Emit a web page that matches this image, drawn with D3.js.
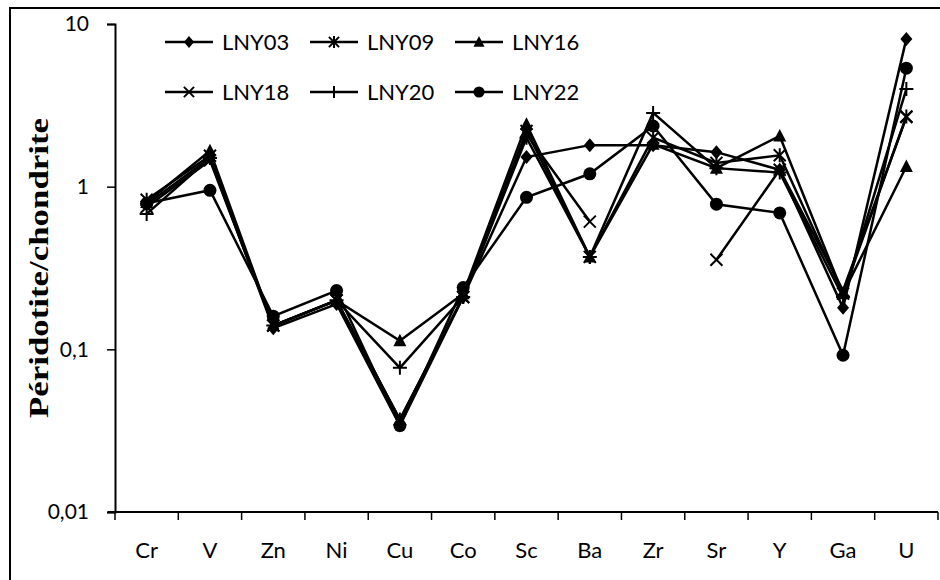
<!DOCTYPE html>
<html><head><meta charset="utf-8">
<script src="https://cdn.jsdelivr.net/npm/d3@7"></script>
<style>body{margin:0;background:#fff}svg{display:block}</style>
</head><body><svg id="c" width="940" height="580"></svg>
<script>
const categories = ["Cr","V","Zn","Ni","Cu","Co","Sc","Ba","Zr","Sr","Y","Ga","U"];
const LNY03 = [0.78, 1.50, 0.135, 0.19, 0.034, 0.21, 1.52, 1.80, 1.80, 1.63, 1.27, 0.18, 8.1];
const LNY09 = [0.83, 1.55, 0.14, 0.20, 0.037, 0.21, 2.2, 0.37, 2.0, 1.40, 1.56, 0.22, 2.7];
const LNY16 = [0.80, 1.66, 0.14, 0.20, 0.113, 0.22, 2.42, 0.37, 1.82, 1.30, 2.05, 0.22, 1.33];
const LNY18 = [0.75, 1.45, 0.14, 0.20, 0.037, 0.21, 2.1, 0.61, null, 0.355, 1.27, 0.23, 2.68];
const LNY20 = [0.68, 1.50, 0.14, 0.20, 0.077, 0.21, 2.0, 0.37, 2.84, 1.30, 1.22, 0.21, 3.98];
const LNY22 = [0.79, 0.95, 0.16, 0.23, 0.034, 0.24, 0.86, 1.20, 2.36, 0.78, 0.69, 0.092, 5.35];
const seriesNames = ["LNY03","LNY09","LNY16","LNY18","LNY20","LNY22"];
const seriesValues = [LNY03, LNY09, LNY16, LNY18, LNY20, LNY22];
const seriesMarkers = ["diamond","asterisk","triangle","cross","plus","circle"];
const yTickValues = [0.01, 0.1, 1, 10];
const yTickLabels = ["0,01","0,1","1","10"];
const yTitle = "Péridotite/chondrite";

const svg = d3.select("#c");
svg.append("rect").attr("x",10).attr("y",8).attr("width",940).attr("height",580)
  .attr("fill","none").attr("stroke","#000").attr("stroke-width",2);

const x = d3.scaleBand().domain(categories).range([115, 938]);
const y = d3.scaleLog().domain([0.01, 10]).range([512, 24]);

const yAxis = svg.append("g").attr("transform","translate(115,0)")
  .call(d3.axisLeft(y).tickValues(yTickValues).tickFormat((d,i)=>yTickLabels[i]).tickSize(8).tickPadding(18));
const xAxis = svg.append("g").attr("transform","translate(0,512)")
  .call(d3.axisBottom(x).tickSize(0).tickPadding(30));
xAxis.selectAll(".tick line").remove();
const bounds = categories.map(c => x(c)).concat([x.range()[1]]);
xAxis.selectAll(".btick").data(bounds).enter().append("line")
  .attr("x1", d=>d).attr("x2", d=>d).attr("y1",0).attr("y2",8).attr("stroke","#000").attr("stroke-width",1.5);
[yAxis, xAxis].forEach(g => {
  g.select(".domain").attr("stroke","#000").attr("stroke-width",2);
  g.selectAll(".tick line").attr("stroke","#000").attr("stroke-width",1.5);
  g.selectAll("text").attr("font-family","Lato, sans-serif").attr("font-size",21).attr("fill","#000");
});
xAxis.select(".domain").attr("d", "M108,0H938");
xAxis.selectAll(".tick text").attr("font-size",22);

svg.append("text").attr("transform","translate(48,268) rotate(-90)")
  .attr("text-anchor","middle").attr("font-family","'Liberation Serif', 'Times New Roman', serif")
  .attr("font-weight","bold").attr("font-size",27).attr("textLength",300).attr("lengthAdjust","spacingAndGlyphs")
  .text(yTitle);

function marker(g, type, cx, cy, s) {
  s = s || 1;
  if (type === "diamond") {
    g.append("path").attr("d", `M${cx},${cy-7*s}L${cx+6*s},${cy}L${cx},${cy+7*s}L${cx-6*s},${cy}Z`).attr("fill","#000");
  } else if (type === "triangle") {
    g.append("path").attr("d", `M${cx},${cy-7*s}L${cx+6.5*s},${cy+5.5*s}L${cx-6.5*s},${cy+5.5*s}Z`).attr("fill","#000");
  } else if (type === "circle") {
    g.append("circle").attr("cx",cx).attr("cy",cy).attr("r",6.5*s).attr("fill","#000");
  } else if (type === "cross") {
    g.append("path").attr("d", `M${cx-6*s},${cy-6*s}L${cx+6*s},${cy+6*s}M${cx-6*s},${cy+6*s}L${cx+6*s},${cy-6*s}`).attr("stroke","#000").attr("stroke-width",2);
  } else if (type === "plus") {
    g.append("path").attr("d", `M${cx-7*s},${cy}L${cx+7*s},${cy}M${cx},${cy-7*s}L${cx},${cy+7*s}`).attr("stroke","#000").attr("stroke-width",2);
  } else if (type === "asterisk") {
    g.append("path").attr("d", `M${cx-6*s},${cy-6*s}L${cx+6*s},${cy+6*s}M${cx-6*s},${cy+6*s}L${cx+6*s},${cy-6*s}M${cx},${cy-7*s}L${cx},${cy+7*s}`).attr("stroke","#000").attr("stroke-width",2);
  }
}

const line = d3.line().defined(d => d.v != null)
  .x(d => x(d.c) + x.bandwidth()/2).y(d => y(d.v));
const plot = svg.append("g");
seriesValues.forEach((vals, si) => {
  const pts = categories.map((c,i) => ({c, v: vals[i]}));
  plot.append("path").datum(pts).attr("d", line).attr("fill","none")
    .attr("stroke","#000").attr("stroke-width",2.5).attr("stroke-linejoin","miter");
  const mg = plot.append("g");
  pts.filter(d => d.v != null).forEach(d => marker(mg, seriesMarkers[si], x(d.c)+x.bandwidth()/2, y(d.v)));
});

const legX = [165, 310, 455];
const legY = [42, 92];
seriesNames.forEach((n, i) => {
  const lx = legX[i % 3], ly = legY[Math.floor(i / 3)];
  const g = svg.append("g");
  g.append("line").attr("x1",lx).attr("x2",lx+48).attr("y1",ly).attr("y2",ly).attr("stroke","#000").attr("stroke-width",2.5);
  marker(g, seriesMarkers[i], lx+24, ly, 0.85);
  g.append("text").attr("x", lx+57).attr("y", ly).attr("dy","0.36em")
    .attr("font-family","Lato, sans-serif").attr("font-size",22).text(n);
});
</script></body></html>
